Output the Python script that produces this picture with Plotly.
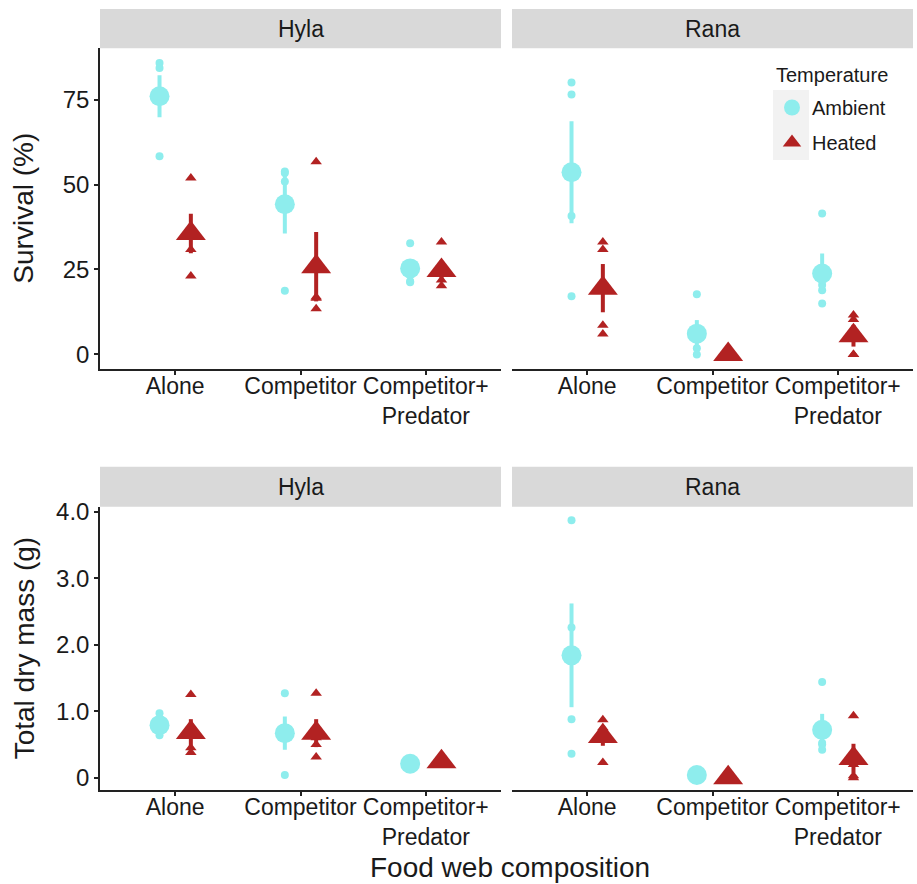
import plotly.graph_objects as go

W, H = 917, 884

categories = ["Alone", "Competitor", "Competitor+<br>Predator"]
temperatures = ["Ambient", "Heated"]
species = ["Hyla", "Rana"]

# ---- Survival (%) raw replicates ----
surv_hyla_amb_raw = [[85.8, 84.3, 75.6, 58.3], [53.8, 53.4, 50.9, 18.7], [32.7, 25.8, 21.5, 21.2]]
surv_hyla_heat_raw = [[51.9, 36.5, 30.9, 23.1], [56.7, 16.9, 16.5, 13.4], [33.1, 23.5, 21.9, 20.2]]
surv_rana_amb_raw = [[80.0, 76.5, 40.7, 17.1], [17.7, 5.0, 1.8, 0.0], [41.5, 20.4, 18.9, 15.0]]
surv_rana_heat_raw = [[33.1, 30.9, 8.6, 6.0], [0.0, 0.0, 0.0, 0.0], [11.6, 10.3, 0.0, 0.0]]
# ---- Survival means and standard errors ----
surv_hyla_amb_mean = [76.0, 44.2, 25.3]
surv_hyla_amb_se = [6.2, 8.6, 2.6]
surv_hyla_heat_mean = [35.6, 25.8, 24.7]
surv_hyla_heat_se = [5.8, 10.2, 2.9]
surv_rana_amb_mean = [53.6, 6.1, 23.8]
surv_rana_amb_se = [15.0, 4.0, 5.9]
surv_rana_heat_mean = [19.5, 0.0, 5.5]
surv_rana_heat_se = [7.1, 0.0, 3.2]

# ---- Total dry mass (g) raw replicates ----
mass_hyla_amb_raw = [[0.97, 0.85, 0.70, 0.64], [1.27, 0.75, 0.62, 0.04], [0.23, 0.21, 0.20, 0.19]]
mass_hyla_heat_raw = [[1.25, 0.64, 0.45, 0.38], [1.27, 0.60, 0.50, 0.31], [0.26, 0.25, 0.23, 0.22]]
mass_rana_amb_raw = [[3.87, 2.26, 0.88, 0.36], [0.06, 0.04, 0.03, 0.02], [1.44, 0.52, 0.50, 0.42]]
mass_rana_heat_raw = [[0.87, 0.75, 0.63, 0.23], [0.0, 0.0, 0.0, 0.0], [0.93, 0.20, 0.03, 0.0]]
# ---- Mass means and standard errors ----
mass_hyla_amb_mean = [0.79, 0.67, 0.21]
mass_hyla_amb_se = [0.07, 0.25, 0.01]
mass_hyla_heat_mean = [0.68, 0.67, 0.24]
mass_hyla_heat_se = [0.20, 0.21, 0.01]
mass_rana_amb_mean = [1.84, 0.04, 0.72]
mass_rana_amb_se = [0.78, 0.01, 0.24]
mass_rana_heat_mean = [0.62, 0.0, 0.29]
mass_rana_heat_se = [0.14, 0.0, 0.22]

surv_ticks = [0, 25, 50, 75]
surv_ticklabels = ["0", "25", "50", "75"]
mass_ticks = [0, 1, 2, 3, 4]
mass_ticklabels = ["0", "1.0", "2.0", "3.0", "4.0"]

COL = {"Ambient": "#8EEDED", "Heated": "#B22222"}
SYM = {"Ambient": "circle", "Heated": "triangle-up"}
BIG = {"Ambient": 20, "Heated": 26}
SMALL = {"Ambient": 8, "Heated": 10}
OFF = {"Ambient": -0.125, "Heated": 0.125}
FONT = "Liberation Sans, Arial, sans-serif"
TXT = "#1a1a1a"
AX = "#222222"

panels = [
    ("x", "y", {"Ambient": (surv_hyla_amb_raw, surv_hyla_amb_mean, surv_hyla_amb_se),
                "Heated": (surv_hyla_heat_raw, surv_hyla_heat_mean, surv_hyla_heat_se)}),
    ("x2", "y2", {"Ambient": (surv_rana_amb_raw, surv_rana_amb_mean, surv_rana_amb_se),
                  "Heated": (surv_rana_heat_raw, surv_rana_heat_mean, surv_rana_heat_se)}),
    ("x3", "y3", {"Ambient": (mass_hyla_amb_raw, mass_hyla_amb_mean, mass_hyla_amb_se),
                  "Heated": (mass_hyla_heat_raw, mass_hyla_heat_mean, mass_hyla_heat_se)}),
    ("x4", "y4", {"Ambient": (mass_rana_amb_raw, mass_rana_amb_mean, mass_rana_amb_se),
                  "Heated": (mass_rana_heat_raw, mass_rana_heat_mean, mass_rana_heat_se)}),
]

fig = go.Figure()
for pi, (xa, ya, data) in enumerate(panels):
    for t in temperatures:
        raw, mean, se = data[t]
        xs, ys = [], []
        for ci, vals in enumerate(raw):
            for v in vals:
                xs.append(ci + 1 + OFF[t])
                ys.append(v)
        fig.add_trace(go.Scatter(
            x=xs, y=ys, mode="markers", xaxis=xa, yaxis=ya, showlegend=False,
            marker=dict(symbol=SYM[t], size=SMALL[t], color=COL[t], line=dict(width=0)),
            hoverinfo="skip"))
    for t in temperatures:
        raw, mean, se = data[t]
        fig.add_trace(go.Scatter(
            x=[ci + 1 + OFF[t] for ci in range(len(mean))], y=mean,
            mode="markers", xaxis=xa, yaxis=ya, name=t,
            legendgroup=t, showlegend=(pi == 0),
            marker=dict(symbol=SYM[t], size=BIG[t], color=COL[t], line=dict(width=0)),
            error_y=dict(type="data", array=se, visible=True, width=0,
                         thickness=4, color=COL[t])))

# panel geometry (pixels)
xL = (100, 501)
xR = (512, 913)
top_plot = (48.3, 369)
bot_plot = (506.7, 790)
top_strip = (9, 48.3)
bot_strip = (466.7, 506.7)

def px(v):
    return v / W

def py(v):
    return 1 - v / H

xbase = dict(showgrid=False, zeroline=False, showline=True, linecolor=AX, linewidth=1.5,
             ticks="outside", ticklen=4, tickwidth=1.5, tickcolor=AX,
             tickvals=[1, 2, 3], ticktext=categories, range=[0.4, 3.6],
             tickangle=0, ticklabelstandoff=-8,
             tickfont=dict(family=FONT, size=23, color=TXT), automargin=False)
ybase = dict(showgrid=False, zeroline=False, automargin=False,
             tickfont=dict(family=FONT, size=24, color=TXT))

fig.update_layout(
    width=W, height=H, margin=dict(l=0, r=0, t=0, b=0),
    paper_bgcolor="white", plot_bgcolor="white",
    font=dict(family=FONT, color=TXT),
    xaxis=dict(xbase, domain=[px(xL[0]), px(xL[1])], anchor="y"),
    xaxis2=dict(xbase, domain=[px(xR[0]), px(xR[1])], anchor="y2"),
    xaxis3=dict(xbase, domain=[px(xL[0]), px(xL[1])], anchor="y3"),
    xaxis4=dict(xbase, domain=[px(xR[0]), px(xR[1])], anchor="y4"),
    yaxis=dict(ybase, domain=[py(top_plot[1]), py(top_plot[0])], range=[-4.3, 90.1],
               anchor="x", showline=True, linecolor=AX, linewidth=1.5, ticks="outside",
               ticklen=4, tickwidth=1.5, tickcolor=AX,
               tickvals=surv_ticks, ticktext=surv_ticklabels),
    yaxis2=dict(ybase, domain=[py(top_plot[1]), py(top_plot[0])], range=[-4.3, 90.1],
                anchor="x2", showline=False, showticklabels=False, ticks=""),
    yaxis3=dict(ybase, domain=[py(bot_plot[1]), py(bot_plot[0])], range=[-0.185, 4.075],
                anchor="x3", showline=True, linecolor=AX, linewidth=1.5, ticks="outside",
                ticklen=4, tickwidth=1.5, tickcolor=AX,
                tickvals=mass_ticks, ticktext=mass_ticklabels),
    yaxis4=dict(ybase, domain=[py(bot_plot[1]), py(bot_plot[0])], range=[-0.185, 4.075],
                anchor="x4", showline=False, showticklabels=False, ticks=""),
    legend=dict(x=px(772), y=py(88), xanchor="left", yanchor="top",
                bgcolor="rgba(0,0,0,0)", font=dict(family=FONT, size=20, color=TXT),
                traceorder="grouped", tracegroupgap=6, itemsizing="trace"),
)

shapes = []
annotations = []
for (x0, x1) in (xL, xR):
    for (s0, s1) in (top_strip, bot_strip):
        shapes.append(dict(type="rect", xref="paper", yref="paper",
                           x0=px(x0), x1=px(x1), y0=py(s1), y1=py(s0),
                           fillcolor="#D9D9D9", line=dict(width=0), layer="below"))
for sp, (x0, x1) in zip(species, (xL, xR)):
    for (s0, s1) in (top_strip, bot_strip):
        annotations.append(dict(text=sp, xref="paper", yref="paper",
                                x=px((x0 + x1) / 2), y=py((s0 + s1) / 2),
                                showarrow=False, xanchor="center", yanchor="middle",
                                font=dict(family=FONT, size=23, color=TXT)))
# legend key background
shapes.append(dict(type="rect", xref="paper", yref="paper",
                   x0=px(773), x1=px(809), y0=py(160), y1=py(90),
                   fillcolor="#F2F2F2", line=dict(width=0), layer="below"))
annotations.append(dict(text="Temperature", xref="paper", yref="paper",
                        x=px(774), y=py(75), showarrow=False,
                        xanchor="left", yanchor="middle",
                        font=dict(family=FONT, size=20, color=TXT)))

annotations.append(dict(text="Survival (%)", xref="paper", yref="paper",
                        x=px(24), y=py((top_plot[0] + top_plot[1]) / 2), textangle=-90,
                        showarrow=False, xanchor="center", yanchor="middle",
                        font=dict(family=FONT, size=28, color=TXT)))
annotations.append(dict(text="Total dry mass (g)", xref="paper", yref="paper",
                        x=px(24), y=py((bot_plot[0] + bot_plot[1]) / 2), textangle=-90,
                        showarrow=False, xanchor="center", yanchor="middle",
                        font=dict(family=FONT, size=28, color=TXT)))
annotations.append(dict(text="Food web composition", xref="paper", yref="paper",
                        x=px(510), y=py(867),
                        showarrow=False, xanchor="center", yanchor="middle",
                        font=dict(family=FONT, size=28, color=TXT)))
fig.update_layout(shapes=shapes, annotations=annotations)

fig.write_html("out.html")
